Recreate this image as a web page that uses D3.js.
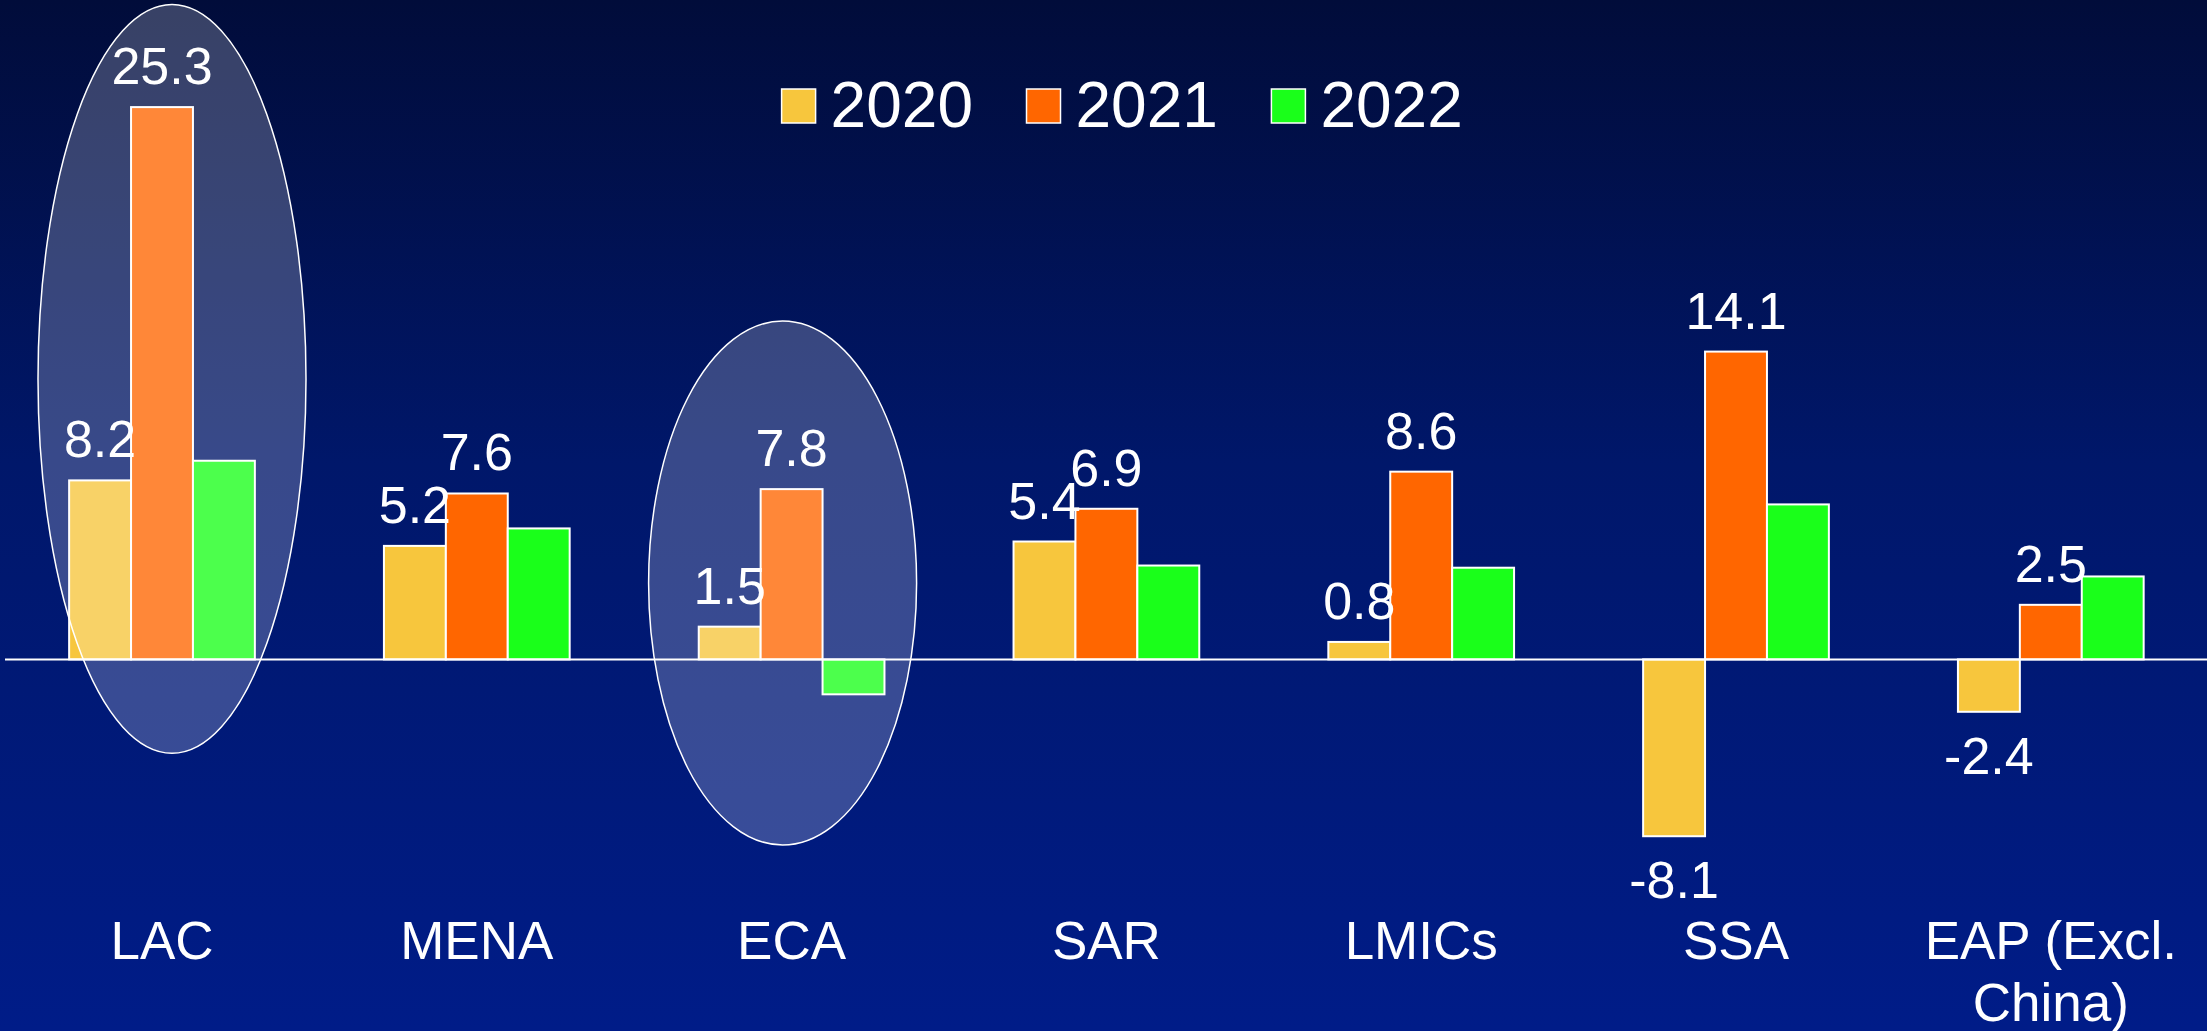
<!DOCTYPE html>
<html><head><meta charset="utf-8">
<script src="https://cdn.jsdelivr.net/npm/d3@7"></script>
<style>html,body{margin:0;padding:0;overflow:hidden;background:#001a80;}svg{display:block;}</style>
</head><body>
<script>
const categories = ["LAC","MENA","ECA","SAR","LMICs","SSA","EAP (Excl. China)"];
const categoryLines = [["LAC"],["MENA"],["ECA"],["SAR"],["LMICs"],["SSA"],["EAP (Excl.","China)"]];
const seriesNames = ["2020","2021","2022"];
const values2020 = [8.2, 5.2, 1.5, 5.4, 0.8, -8.1, -2.4];
const values2021 = [25.3, 7.6, 7.8, 6.9, 8.6, 14.1, 2.5];
const values2022 = [9.1, 6.0, -1.6, 4.3, 4.2, 7.1, 3.8];
const labelledSeries = ["2020","2021"];
const seriesColors = ["#f7c63d","#ff6600","#1aff1a"];
// highlighted groups (ellipse extents in data units)
const highlightCats = ["LAC","ECA"];
const highlightTop = [30.0, 15.5];
const highlightBottom = [-4.3, -8.5];

const W = 2207, H = 1031;
const svg = d3.select("body").append("svg").attr("width", W).attr("height", H);
const defs = svg.append("defs");
const grad = defs.append("linearGradient").attr("id","bg").attr("x1",0).attr("y1",0).attr("x2",0).attr("y2",1);
grad.append("stop").attr("offset","0%").attr("stop-color","#010c3a");
grad.append("stop").attr("offset","45%").attr("stop-color","#00176a");
grad.append("stop").attr("offset","100%").attr("stop-color","#001c88");
svg.append("rect").attr("width",W).attr("height",H).attr("fill","url(#bg)");

const x0 = d3.scaleBand().domain(categories).range([4.6, 2208.2]).paddingInner(0.41).paddingOuter(0.205);
const x1 = d3.scaleBand().domain(seriesNames).range([0, x0.bandwidth()]);
const y = d3.scaleLinear().domain([-10, 30]).range([659.4 + 218.3, 659.4 - 654.9]);
const color = d3.scaleOrdinal().domain(seriesNames).range(seriesColors);

const seriesValues = {"2020": values2020, "2021": values2021, "2022": values2022};
const rows = categories.map((c, i) => ({cat: c, vals: seriesNames.map(s => ({s, v: seriesValues[s][i]}))}));

const font = "'Liberation Sans', Arial, sans-serif";

// bars
const g = svg.append("g");
const groups = g.selectAll("g.grp").data(rows).join("g").attr("class","grp")
  .attr("transform", d => `translate(${x0(d.cat)},0)`);
groups.selectAll("rect").data(d => d.vals).join("rect")
  .attr("x", d => x1(d.s))
  .attr("width", x1.bandwidth())
  .attr("y", d => y(Math.max(0, d.v)))
  .attr("height", d => Math.abs(y(d.v) - y(0)))
  .attr("fill", d => color(d.s))
  .attr("stroke", "#ffffff").attr("stroke-width", 2);

// zero line
svg.append("line").attr("x1", 5).attr("x2", W).attr("y1", y(0)).attr("y2", y(0))
  .attr("stroke", "#ffffff").attr("stroke-width", 2);

// highlight ellipses
highlightCats.forEach((c, i) => {
  const offs = c === "LAC" ? 10 : -9;
  svg.append("ellipse")
    .attr("cx", x0(c) + x0.bandwidth()/2 + offs)
    .attr("cy", (y(highlightTop[i]) + y(highlightBottom[i]))/2)
    .attr("rx", 134)
    .attr("ry", (y(highlightBottom[i]) - y(highlightTop[i]))/2)
    .attr("fill", "#ffffff").attr("fill-opacity", 0.22)
    .attr("stroke", "#ffffff").attr("stroke-width", 1.5);
});

// value labels
groups.selectAll("text.val").data(d => d.vals.filter(v => labelledSeries.includes(v.s))).join("text")
  .attr("class","val")
  .attr("x", d => x1(d.s) + x1.bandwidth()/2)
  .attr("y", d => d.v >= 0 ? y(d.v) - 23 : y(d.v) + 62)
  .attr("text-anchor","middle")
  .attr("font-family", font).attr("font-size", 52).attr("fill","#ffffff")
  .text(d => d.v.toFixed(1));

// category labels
const cl = svg.append("g").selectAll("text").data(categories).join("text")
  .attr("x", d => x0(d) + x0.bandwidth()/2)
  .attr("y", 959)
  .attr("text-anchor","middle")
  .attr("font-family", font).attr("font-size", 53).attr("fill","#ffffff");
cl.each(function(d, i) {
  d3.select(this).selectAll("tspan").data(categoryLines[i]).join("tspan")
    .attr("x", x0(d) + x0.bandwidth()/2)
    .attr("dy", (t, j) => j === 0 ? 0 : 62)
    .text(t => t);
});

// legend
const legendX = [781.6, 1026.5, 1271.4];
const leg = svg.append("g").selectAll("g").data(seriesNames).join("g")
  .attr("transform", (d, i) => `translate(${legendX[i]},89)`);
leg.append("rect").attr("width", 34).attr("height", 34).attr("fill", d => color(d))
  .attr("stroke", "#ffffff").attr("stroke-width", 1.5);
leg.append("text").attr("x", 49).attr("y", 38)
  .attr("font-family", font).attr("font-size", 64).attr("fill", "#ffffff")
  .text(d => d);
</script>
</body></html>
